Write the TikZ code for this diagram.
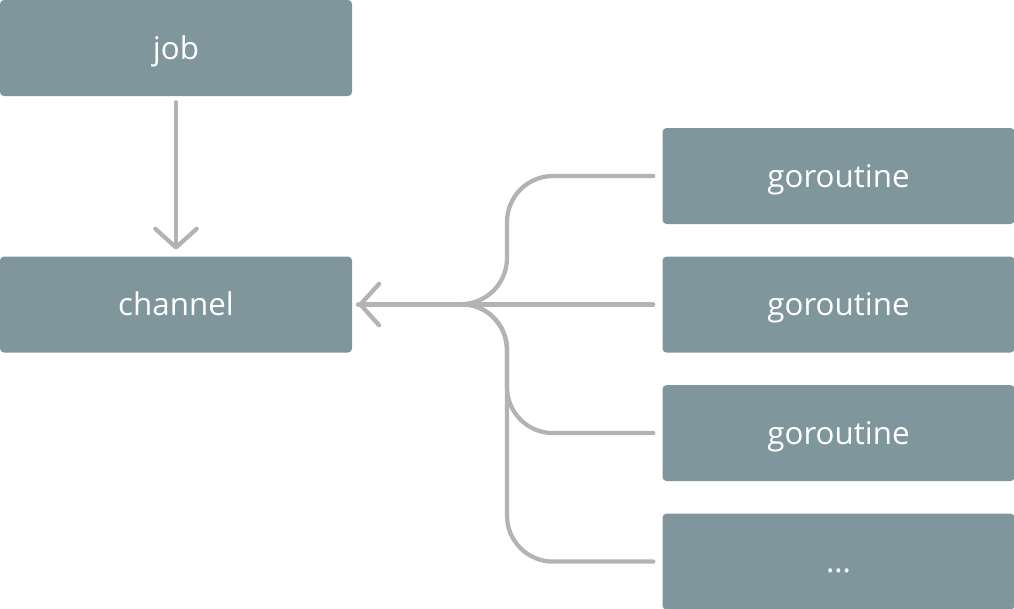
\documentclass[tikz,border=0pt]{standalone}
\usepackage{fontspec}
\setmainfont{Open Sans}
\usepackage{tikz}
\usetikzlibrary{arrows.meta}
\usetikzlibrary{positioning}
\definecolor{mslate}{HTML}{7F979C}
\definecolor{mgrey}{HTML}{B3B3B3}
\tikzset{box/.style = {fill=mslate, rounded corners=3pt,
                       minimum width=264pt, minimum height=72pt,
                       inner sep=0pt, text=white,
                       text height=21.5pt, text depth=5pt,
                       font=\fontsize{23.5}{28}\selectfont}}
\tikzset{flow/.style = {draw=mgrey, line width=3.2pt, line cap=round,
                        line join=round, rounded corners=34.5pt}}
\tikzset{tip/.style = {-{Straight Barb[length=14pt, width=31pt, round]}}}

\begin{document}
\begin{tikzpicture}[x=0.75pt, y=-0.75pt]
      \useasboundingbox (0, 0) rectangle (1014, 608);
      \node[box] (job) at (176, 48) {job};
      \node[box, below=120pt of job] (channel) {channel};
      \node[box, right=232.5pt of channel] (gor2) {goroutine};
      \node[box, above=24pt of gor2] (gor1) {goroutine};
      \node[box, below=24pt of gor2] (gor3) {goroutine};
      \node[box, below=24pt of gor3] (more) {...};
      \coordinate (fork) at (507, 304);
      \draw[flow, tip, shorten <=4.5pt, shorten >=5pt] (job) -- (channel);
      \draw[flow, shorten <=6.75pt, shorten >=4.5pt] (gor1.west) -- (gor1.west -| fork) -- (fork) -- (channel.east);
      \draw[flow, shorten <=6.75pt, shorten >=4.5pt] (gor3.west) -- (gor3.west -| fork) -- (fork) -- (channel.east);
      \draw[flow, shorten <=6.75pt, shorten >=4.5pt] (more.west) -- (more.west -| fork) -- (fork) -- (channel.east);
      \draw[flow, tip, shorten <=6.75pt, shorten >=4.5pt] (gor2.west) -- (channel.east);
    \end{tikzpicture}
\end{document}
